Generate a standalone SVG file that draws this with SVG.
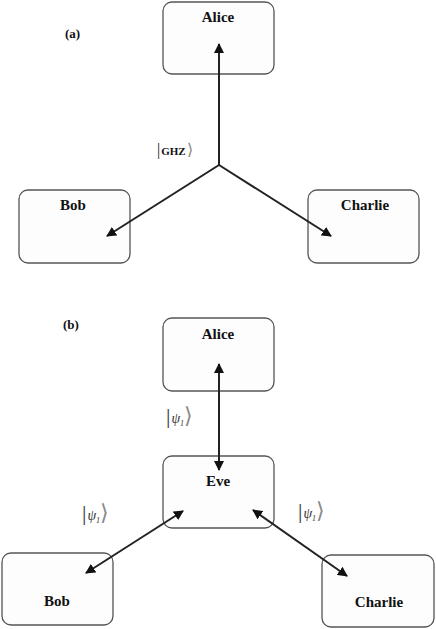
<svg xmlns="http://www.w3.org/2000/svg" width="436" height="629" viewBox="0 0 436 629">
<style>
.box{fill:#fdfdfd;stroke:#555;stroke-width:1.3}
.name{font-family:"Liberation Serif",serif;font-weight:bold;font-size:15px;fill:#111;text-anchor:middle}
.tag{font-family:"Liberation Serif",serif;font-weight:bold;font-size:13px;fill:#111}
.edge{stroke:#222;stroke-width:2;fill:none}
.ket{font-family:"Liberation Serif",serif;font-size:14px;fill:#333}
.ghz{font-family:"Liberation Serif",serif;font-weight:bold;font-size:11px;fill:#111}
.br{font-size:22px;font-weight:normal}
.ang{fill:#888}
</style>
<defs>
<marker id="ah" viewBox="0 0 10 10" refX="9" refY="5" markerWidth="5" markerHeight="5" orient="auto-start-reverse" markerUnits="strokeWidth">
<path d="M0,0 L10,5 L0,10 Z" fill="#111"/>
</marker>
</defs>
<rect width="436" height="629" fill="#fff"/>
<text class="tag" x="65" y="38">(a)</text>
<text class="tag" x="63" y="329">(b)</text>
<g id="a-alice"><rect class="box" x="163" y="2" width="111" height="72" rx="9"/><text class="name" x="218" y="22">Alice</text></g>
<g id="a-bob"><rect class="box" x="19" y="190" width="111" height="73" rx="9"/><text class="name" x="73" y="210">Bob</text></g>
<g id="a-charlie"><rect class="box" x="308" y="190" width="111" height="73" rx="9"/><text class="name" x="365" y="210">Charlie</text></g>
<g id="b-alice"><rect class="box" x="163" y="318" width="111" height="73" rx="9"/><text class="name" x="218" y="339">Alice</text></g>
<g id="b-eve"><rect class="box" x="163" y="456" width="111" height="72" rx="9"/><text class="name" x="218" y="486">Eve</text></g>
<g id="b-bob"><rect class="box" x="2" y="553" width="111" height="72" rx="9"/><text class="name" x="57" y="606">Bob</text></g>
<g id="b-charlie"><rect class="box" x="322" y="555" width="112" height="72" rx="9"/><text class="name" x="379" y="607">Charlie</text></g>
<g id="connectors">
<path class="edge" d="M219,165 L219,44" marker-end="url(#ah)"/>
<path class="edge" d="M219,165 L107,236" marker-end="url(#ah)"/>
<path class="edge" d="M219,165 L331,236" marker-end="url(#ah)"/>
<path class="edge" d="M219,364 L219,470" marker-start="url(#ah)" marker-end="url(#ah)"/>
<path class="edge" d="M183,511 L86,573" marker-start="url(#ah)" marker-end="url(#ah)"/>
<path class="edge" d="M253,510 L347,576" marker-start="url(#ah)" marker-end="url(#ah)"/>
</g>
<g id="labels">
<text class="ghz" x="157" y="155"><tspan font-weight="normal" font-size="16">|</tspan><tspan dx="1">GHZ</tspan><tspan class="ang" font-weight="normal" font-size="16" dx="1">⟩</tspan></text>
<text class="ket" x="166" y="423"><tspan class="br">|</tspan><tspan font-style="italic" dx="1">ψ</tspan><tspan font-style="italic" font-size="8" dy="3">1</tspan><tspan class="br ang" dy="-3">⟩</tspan></text>
<text class="ket" x="82" y="520"><tspan class="br">|</tspan><tspan font-style="italic" dx="1">ψ</tspan><tspan font-style="italic" font-size="8" dy="3">1</tspan><tspan class="br ang" dy="-3">⟩</tspan></text>
<text class="ket" x="298" y="518"><tspan class="br">|</tspan><tspan font-style="italic" dx="1">ψ</tspan><tspan font-style="italic" font-size="8" dy="3">1</tspan><tspan class="br ang" dy="-3">⟩</tspan></text>
</g>
</svg>
